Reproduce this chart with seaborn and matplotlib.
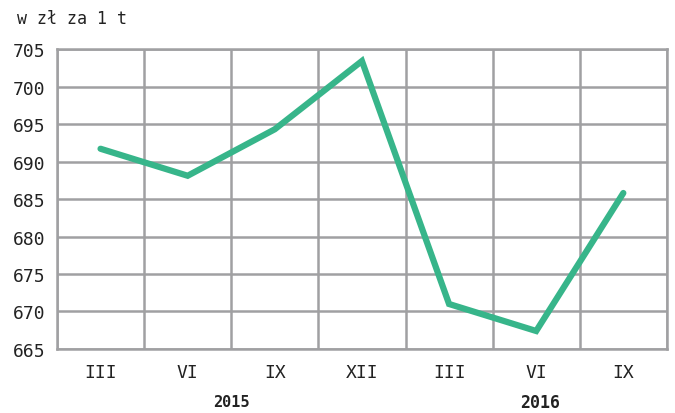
import numpy as np
import pandas as pd
import matplotlib
matplotlib.use("Agg")
import matplotlib.pyplot as plt
import seaborn as sns

# dane
months = ["III", "VI", "IX", "XII", "III", "VI", "IX"]
prices = [691.7, 688.1, 694.3, 703.4, 671.0, 667.4, 685.8]
years = ["2015", "2016"]
yticks = [665, 670, 675, 680, 685, 690, 695, 700, 705]

df = pd.DataFrame({"pos": np.arange(len(months)), "price": prices})

sns.set_style("white")
plt.rcParams["font.family"] = ["DejaVu Sans Mono", "DejaVu Sans"]

grid_c = "#a0a0a2"
line_c = "#37b58a"

fig = plt.figure(figsize=(6.75, 4.14), dpi=100)
ax = fig.add_axes([0.0844, 0.1546, 0.9036, 0.7246])

sns.lineplot(data=df, x="pos", y="price", color=line_c, linewidth=4.5,
             ax=ax, zorder=3, solid_joinstyle="miter")

ax.set_xlim(-0.5, len(months) - 0.5)
ax.set_ylim(yticks[0], yticks[-1])
ax.set_yticks(yticks)
ax.set_xticks(np.arange(len(months)))
ax.set_xticklabels(months)
ax.set_xticks(np.arange(len(months) + 1) - 0.5, minor=True)
ax.grid(False)
ax.grid(True, which="minor", axis="x", color=grid_c, linewidth=1.8)
ax.grid(True, which="major", axis="y", color=grid_c, linewidth=1.8)
for s in ax.spines.values():
    s.set_color(grid_c)
    s.set_linewidth(1.8)
ax.tick_params(axis="both", which="both", length=0, labelsize=13, colors="#222222")
ax.tick_params(axis="x", pad=10)
ax.tick_params(axis="y", pad=8)
ax.set_xlabel("")
ax.set_ylabel("")

fig.text(0.025, 0.955, "w zł za 1 t", fontsize=12, color="#222222", va="center")
fig.text(0.343, 0.027, years[0], fontsize=11, fontweight="bold", color="#222222", ha="center", va="center")
fig.text(0.80, 0.027, years[1], fontsize=12, fontweight="bold", color="#222222", ha="center", va="center")

fig.savefig("out.png", dpi=100)
